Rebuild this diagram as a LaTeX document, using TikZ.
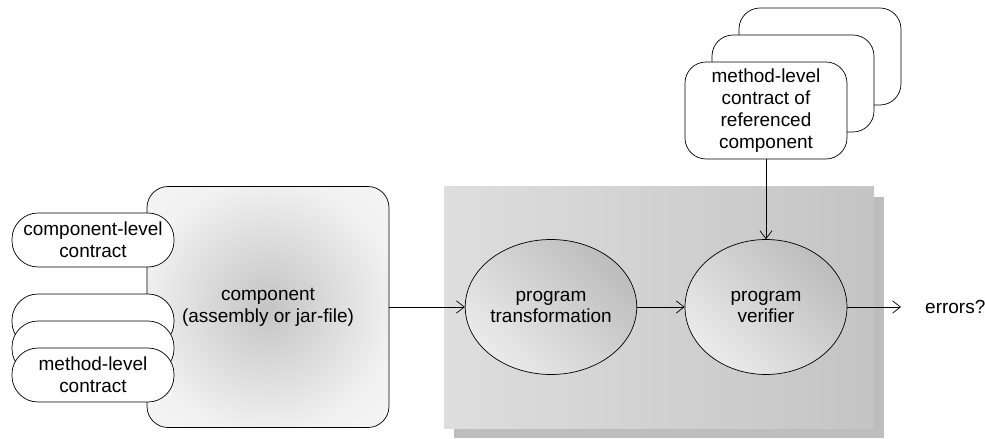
\documentclass[tikz,border=0pt]{standalone}
\usepackage{fontspec}
\setmainfont{Liberation Sans}
\usetikzlibrary{shapes.geometric,arrows.meta}

\pgfdeclareradialshading{compglow}{\pgfpoint{0bp}{0bp}}{%
  color(0bp)=(black!23); color(27bp)=(black!5); color(50bp)=(black!4)}

\tikzset{
  every node/.style={font=\fontsize{10.8pt}{12.4pt}\selectfont},
  flow/.style={-{Straight Barb[length=4.5pt,width=7pt]}},
  contract/.style={draw, fill=white, rounded corners=0.52cm,
    minimum width=3.24cm, minimum height=1.08cm, align=center, inner sep=0pt},
  refcontract/.style={draw, fill=white, rounded corners=0.42cm,
    minimum width=3.24cm, minimum height=1.94cm, align=center, inner sep=0pt},
  compbox/.style={draw, rounded corners=0.42cm, minimum width=4.84cm,
    minimum height=4.82cm, align=center, shading=compglow},
  process/.style={ellipse, draw, minimum width=3.24cm, minimum height=2.7cm,
    align=center, inner sep=0pt, top color=black!26, bottom color=black!8,
    shading angle=-45},
}

\begin{document}
\begin{tikzpicture}[x=0.02cm, y=-0.02cm]
  \useasboundingbox (0,0) rectangle (985,439);

  % tool chain background with shadow
  \fill[black!26] (454,197) rectangle (884,438);
  \shade[left color=black!13, right color=black!23] (444,187) rectangle (874,428);

  % component and its contracts
  \node[compbox] (comp) at (268,307) {component\\(assembly or jar-file)};
  \node[contract] (complevel) at (93,240) {component-level\\contract};
  \foreach \y [count=\n] in {321,348} {
    \node[contract] (meth\n) at (93,\y) {};
  }
  \node[contract] (methlevel) at (93,375) {method-level\\contract};

  % referenced contracts
  \foreach \x/\y [count=\n] in {820/56.5,793/83.5} {
    \node[refcontract] (back\n) at (\x,\y) {};
  }
  \node[refcontract] (refc) at (766,110.5) {method-level\\contract of\\referenced\\component};

  % processing steps
  \node[process] (trans) at (551,307) {program\\transformation};
  \node[process] (verif) at (766,307) {program\\verifier};
  \node[anchor=west] (errors) at (919,307) {errors?};

  \draw[flow] (comp) -- (trans);
  \draw[flow] (trans) -- (verif);
  \draw[flow] (refc) -- (verif);
  \draw[flow, shorten >=0.36cm] (verif) -- (errors);
\end{tikzpicture}
\end{document}
